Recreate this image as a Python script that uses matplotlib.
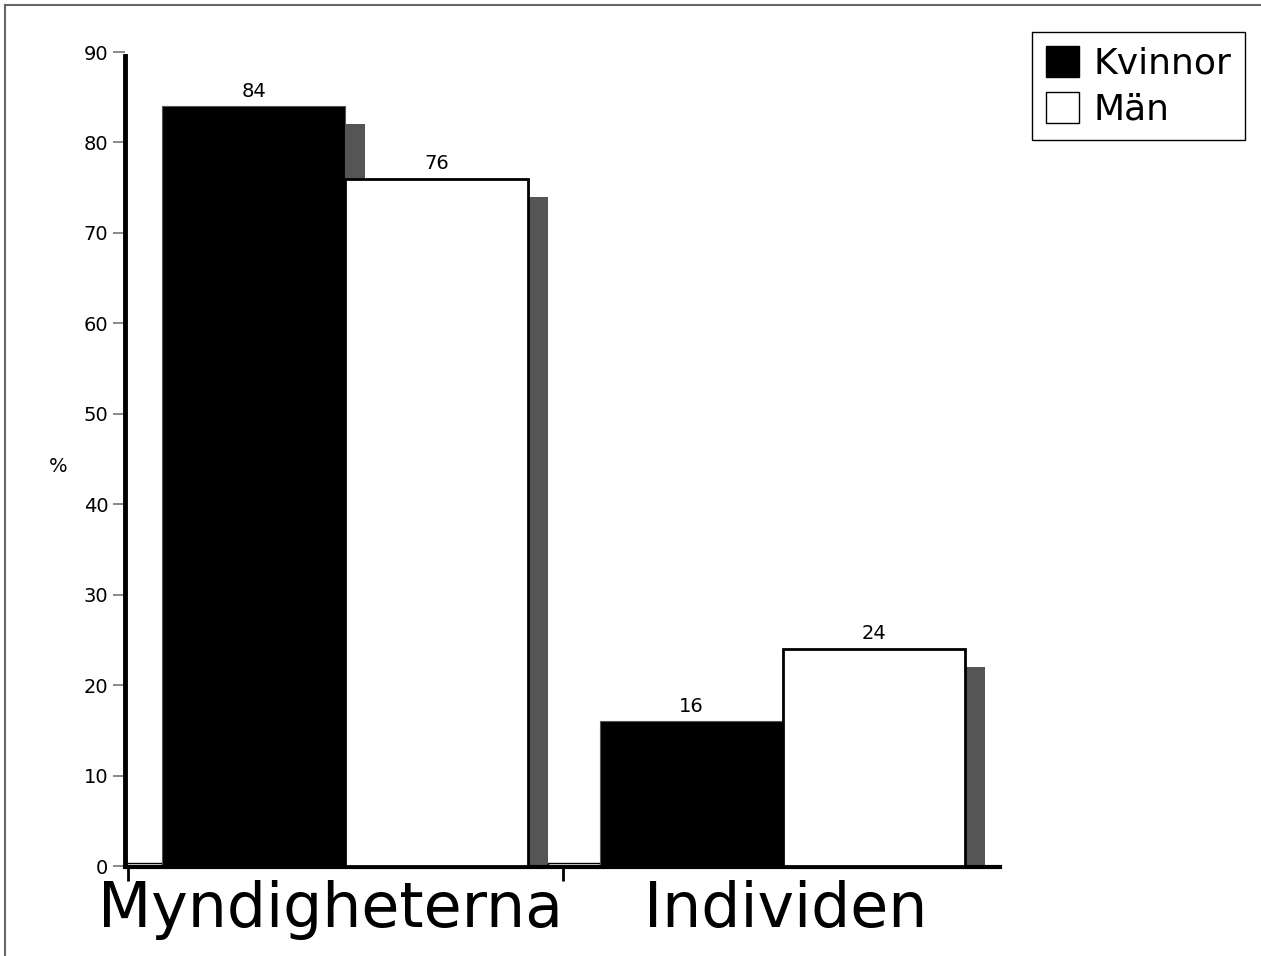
import matplotlib
matplotlib.use("Agg")
import matplotlib.pyplot as plt
from matplotlib.patches import Rectangle, Patch
from matplotlib.lines import Line2D

categories = ["Myndigheterna", "Individen"]
series_names = ["Kvinnor", "Män"]
kvinnor = [84, 16]
man = [76, 24]
yticks = [0, 10, 20, 30, 40, 50, 60, 70, 80, 90]

W, H = 1261, 956
fig = plt.figure(figsize=(W / 100, H / 100), dpi=100)
ax = fig.add_axes([125 / W, 90 / H, (1000 - 125) / W, (866 - 52) / H])
ax.set_xlim(0, 2)
ax.set_ylim(0, 90)

bw = 0.418
off_k = 0.085
shadow_dx = 0.045
shadow_dy = 2

for i, (k, m) in enumerate(zip(kvinnor, man)):
    xk = i + off_k
    xm = xk + bw
    # shadows
    for x0, v in ((xk, k), (xm, m)):
        ax.add_patch(Rectangle((x0 + shadow_dx, 0), bw, v - shadow_dy,
                               facecolor="#555555", edgecolor="none", zorder=1))
    # thin baseline strip
    start = 0.0 if i == 0 else (i - 1) + off_k + 2 * bw + shadow_dx
    ax.add_patch(Rectangle((start, 0), xk - start, 0.35, facecolor="white",
                           edgecolor="black", lw=1, zorder=1.5))
    ax.add_patch(Rectangle((xk, 0), bw, k, facecolor="black",
                           edgecolor="#555555", lw=0.8, zorder=2))
    ax.add_patch(Rectangle((xm, 0), bw, m, facecolor="white",
                           edgecolor="black", lw=2, zorder=3))
    ax.annotate(str(k), (xk + bw / 2, k), xytext=(0, 4), textcoords="offset points",
                ha="center", va="bottom", fontsize=14)
    ax.annotate(str(m), (xm + bw / 2, m), xytext=(0, 4), textcoords="offset points",
                ha="center", va="bottom", fontsize=14)

for s in ("top", "right"):
    ax.spines[s].set_visible(False)
ax.spines["left"].set_linewidth(3.5)
ax.spines["bottom"].set_linewidth(3)
ax.spines["left"].set_bounds(0, 89.6)
ax.spines["bottom"].set_position(("data", -0.1))

ax.set_yticks(yticks)
ax.set_yticklabels([str(v) for v in yticks], fontsize=14)
ax.tick_params(axis="y", length=9, width=1.2, color="#777777", pad=3)

ax.set_xticks([0.007, 1.0])
ax.set_xticklabels(["", ""])
ax.tick_params(axis="x", length=10, width=2, color="black")

label_x = [0.469, 1.509]
for lx, c in zip(label_x, categories):
    ax.text(lx, -1.5, c, ha="center", va="top", fontsize=44.5)

fig.text(58 / W, 1 - 466 / H, "%", ha="center", va="center", fontsize=14)

handles = [Patch(facecolor="black", edgecolor="black"),
           Patch(facecolor="white", edgecolor="black", lw=1)]
leg = fig.legend(handles, series_names, loc="upper right",
                 bbox_to_anchor=(1245 / W, 1 - 32 / H), borderaxespad=0,
                 fontsize=26, handlelength=0.92, handleheight=0.95,
                 handletextpad=0.4, labelspacing=0.3, borderpad=0.38,
                 fancybox=False, framealpha=1)
leg.get_frame().set_edgecolor("black")
leg.get_frame().set_linewidth(1)

fig.add_artist(Line2D([5 / W, 1], [1 - 5 / H, 1 - 5 / H], color="#666666", lw=1.5,
                      transform=fig.transFigure))
fig.add_artist(Line2D([5 / W, 5 / W], [0, 1 - 5 / H], color="#666666", lw=1.5,
                      transform=fig.transFigure))

fig.savefig("out.png", dpi=100)
